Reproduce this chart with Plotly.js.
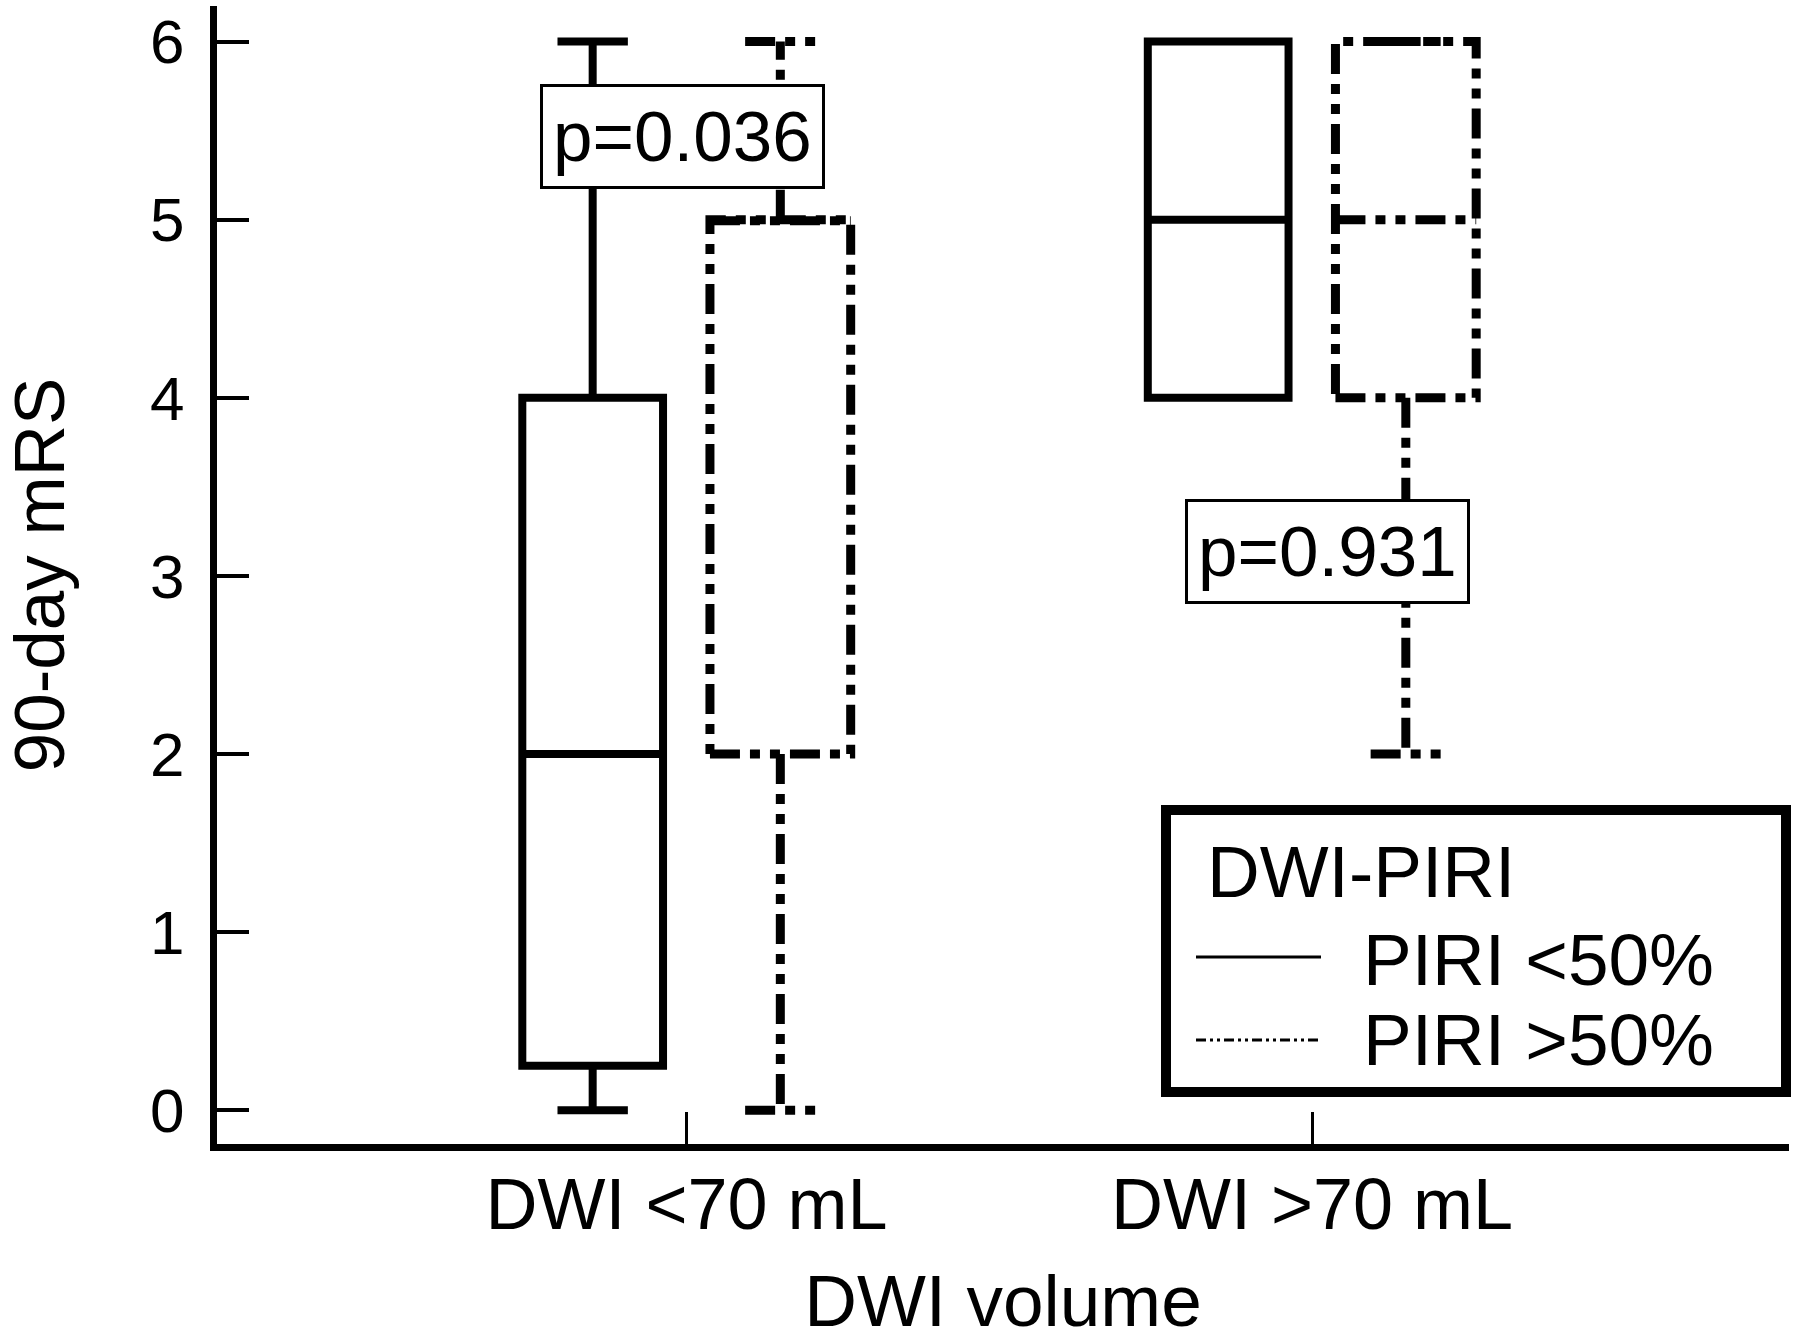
<!DOCTYPE html>
<html>
<head>
<meta charset="utf-8">
<script src="https://cdn.plot.ly/plotly-3.0.1.min.js"></script>
<style>
  html, body { margin: 0; padding: 0; background: #fff; }
  #chart { width: 1800px; height: 1341px; }
</style>
</head>
<body>
<div id="chart"></div>
<script>
// ---- data ----
const categories = ["DWI <70 mL", "DWI >70 mL"];
const seriesNames = ["PIRI <50%", "PIRI >50%"];
// PIRI <50%
const lowQ1 = [0.25, 4];
const lowMedian = [2, 5];
const lowQ3 = [4, 6];
const lowMin = [0, 4];
const lowMax = [6, 6];
// PIRI >50%
const highQ1 = [2, 4];
const highMedian = [5, 5];
const highQ3 = [5, 6];
const highMin = [0, 2];
const highMax = [6, 6];
const yTicks = [0, 1, 2, 3, 4, 5, 6];
const pValues = ["p=0.036", "p=0.931"];
const legendTitle = "DWI-PIRI";

// ---- layout helpers (pixel -> paper) ----
const W = 1800, H = 1341;
const M = { l: 217, r: 11, t: 6, b: 197 };
const PW = W - M.l - M.r, PH = H - M.t - M.b;
const px = x => (x - M.l) / PW;
const py = y => (H - M.b - y) / PH;

const FONT = "Liberation Sans, Arial, Helvetica, sans-serif";
const dashPattern = "30px,10px,10px,10px,10px,10px";
const legendDash = "10px,4px,3px,4px,3px,4px";

const traces = [
  {
    type: "box", name: seriesNames[0], x: categories,
    q1: lowQ1, median: lowMedian, q3: lowQ3, lowerfence: lowMin, upperfence: lowMax,
    boxpoints: false, whiskerwidth: 0.5,
    line: { color: "#000", width: 8 }, fillcolor: "rgba(0,0,0,0)",
    showlegend: false, hoverinfo: "skip"
  },
  {
    type: "box", name: seriesNames[1], x: categories,
    q1: highQ1, median: highMedian, q3: highQ3, lowerfence: highMin, upperfence: highMax,
    boxpoints: false, whiskerwidth: 0.5,
    line: { color: "#000", width: 9 }, fillcolor: "rgba(0,0,0,0)",
    showlegend: false, hoverinfo: "skip"
  }
];

const annotations = [
  {
    xref: "x", yref: "y", x: -0.006, y: 5.47, text: pValues[0], showarrow: false,
    font: { family: FONT, size: 71, color: "#000" },
    bgcolor: "#fff", bordercolor: "#000", borderwidth: 3, borderpad: 10
  },
  {
    xref: "x", yref: "y", x: 1.024, y: 3.135, text: pValues[1], showarrow: false,
    font: { family: FONT, size: 71, color: "#000" },
    bgcolor: "#fff", bordercolor: "#000", borderwidth: 3, borderpad: 10
  },
  // legend texts
  {
    xref: "paper", yref: "paper", x: px(1205), y: py(872), xanchor: "left", yanchor: "middle",
    text: legendTitle, showarrow: false, font: { family: FONT, size: 73, color: "#000" }
  },
  {
    xref: "paper", yref: "paper", x: px(1361), y: py(959), xanchor: "left", yanchor: "middle",
    text: seriesNames[0], showarrow: false, font: { family: FONT, size: 73, color: "#000" }
  },
  {
    xref: "paper", yref: "paper", x: px(1361), y: py(1039), xanchor: "left", yanchor: "middle",
    text: seriesNames[1], showarrow: false, font: { family: FONT, size: 73, color: "#000" }
  }
];

const shapes = [
  { type: "rect", xref: "paper", yref: "paper", x0: px(1166), x1: px(1786), y0: py(810), y1: py(1092),
    line: { color: "#000", width: 10 }, fillcolor: "#fff", layer: "above" },
  { type: "line", xref: "paper", yref: "paper", x0: px(1196), x1: px(1321), y0: py(957), y1: py(957),
    line: { color: "#000", width: 3 }, layer: "above" },
  { type: "line", xref: "paper", yref: "paper", x0: px(1196), x1: px(1321), y0: py(1040), y1: py(1040),
    line: { color: "#000", width: 3, dash: legendDash }, layer: "above" }
];

const layout = {
  width: W, height: H,
  margin: M,
  paper_bgcolor: "#fff", plot_bgcolor: "#fff",
  font: { family: FONT, color: "#000" },
  showlegend: false,
  boxmode: "group", boxgap: 0.4, boxgroupgap: 0.25,
  xaxis: {
    type: "category", range: [-0.7506, 1.7626], fixedrange: true,
    showline: true, linecolor: "#000", linewidth: 7, mirror: false,
    ticks: "inside", ticklen: 32, tickwidth: 3, tickcolor: "#000",
    showgrid: false, zeroline: false,
    tickfont: { family: FONT, size: 72, color: "#000" },
    ticklabelstandoff: -8,
    title: { text: "DWI volume", font: { family: FONT, size: 73, color: "#000" }, standoff: 54 }
  },
  yaxis: {
    range: [-0.189, 6.2], fixedrange: true,
    tickvals: yTicks, ticktext: yTicks.map(String),
    showline: true, linecolor: "#000", linewidth: 7,
    ticks: "inside", ticklen: 32, tickwidth: 4, tickcolor: "#000",
    showgrid: false, zeroline: false,
    tickfont: { family: FONT, size: 62, color: "#000" },
    ticklabelstandoff: 13,
    title: { text: "90-day mRS", font: { family: FONT, size: 71, color: "#000" }, standoff: 66 }
  },
  annotations: annotations,
  shapes: shapes
};

Plotly.newPlot("chart", traces, layout, { staticPlot: true, displayModeBar: false }).then(gd => {
  const groups = gd.querySelectorAll("g.trace.boxes");
  if (groups.length > 1) {
    groups[1].querySelectorAll("path.box").forEach(p => {
      p.style.strokeDasharray = dashPattern.replace(/px/g, "");
    });
  }
});
</script>
</body>
</html>
